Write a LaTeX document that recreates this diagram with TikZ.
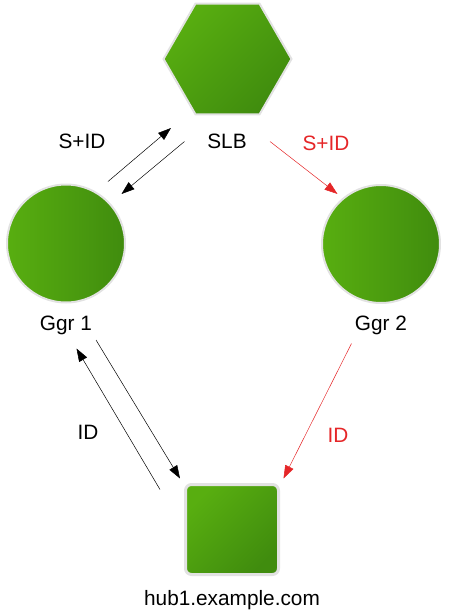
\documentclass[tikz,border=0pt]{standalone}
\usepackage{fontspec}
\setmainfont{Liberation Sans}
\usetikzlibrary{shapes.geometric,arrows.meta}
\definecolor{gLight}{RGB}{88,174,16}
\definecolor{gDark}{RGB}{64,140,14}
\definecolor{rimGray}{RGB}{226,226,226}
\definecolor{arrRed}{RGB}{229,38,40}
\begin{document}
\begin{tikzpicture}[x=1pt,y=-1pt,
  lbl/.style={font=\fontsize{20.8}{25}\selectfont, inner sep=0pt},
  diag/.style={draw=rimGray, line width=2pt, top color=gLight, bottom color=gDark, shading angle=45},
  horiz/.style={draw=rimGray, line width=2pt, left color=gLight, right color=gDark},
  blk/.style={draw=black, line width=0.5pt, -{Triangle[length=13pt,width=9pt]}},
  red/.style={draw=arrRed, line width=0.5pt, -{Triangle[length=13pt,width=9pt]}}
]
\useasboundingbox (0,0) rectangle (454,611);
% shapes
\node[regular polygon, regular polygon sides=6, minimum size=128pt, inner sep=0pt, outer sep=0pt, diag] (slb) at (227.5,59) {};
\node[circle, minimum size=118pt, inner sep=0pt, outer sep=0pt, horiz] (g1) at (66,243.5) {};
\node[circle, minimum size=118pt, inner sep=0pt, outer sep=0pt, horiz] (g2) at (381,244) {};
\node[rectangle, rounded corners=6pt, minimum width=93pt, minimum height=90pt, inner sep=0pt, draw=rimGray, line width=3pt, top color=gLight, bottom color=gDark, shading angle=45] (hub) at (232,529.5) {};
% labels
\node[lbl] (slbL) at (227,141) {SLB};
\node[lbl] (g1L) at (66,325) {Ggr 1};
\node[lbl] (g2L) at (381,325) {Ggr 2};
\node[lbl] (hubL) at (232,600) {hub1.example.com};
\node[lbl] (sid1) at (82,141) {S+ID};
\node[lbl, text=arrRed] (sid2) at (326,143) {S+ID};
\node[lbl] (id1) at (88,432) {ID};
\node[lbl, text=arrRed] (id2) at (338,435) {ID};
% arrow end points
\coordinate (a1s) at (108,181.5);
\coordinate (a1e) at (171,128);
\coordinate (a2s) at (184.5,141.5);
\coordinate (a2e) at (121.5,194);
\coordinate (a3s) at (270,141.5);
\coordinate (a3e) at (337.5,194);
\coordinate (a4s) at (96,340);
\coordinate (a4e) at (180,478.5);
\coordinate (a5s) at (160,489.5);
\coordinate (a5e) at (76.5,348.5);
\coordinate (a6s) at (351.5,343.5);
\coordinate (a6e) at (283.5,478.5);
% connectors
\draw[blk] (a1s) -- (a1e);
\draw[blk] (a2s) -- (a2e);
\draw[red] (a3s) -- (a3e);
\draw[blk] (a4s) -- (a4e);
\draw[blk] (a5s) -- (a5e);
\draw[red] (a6s) -- (a6e);
\end{tikzpicture}
\end{document}
